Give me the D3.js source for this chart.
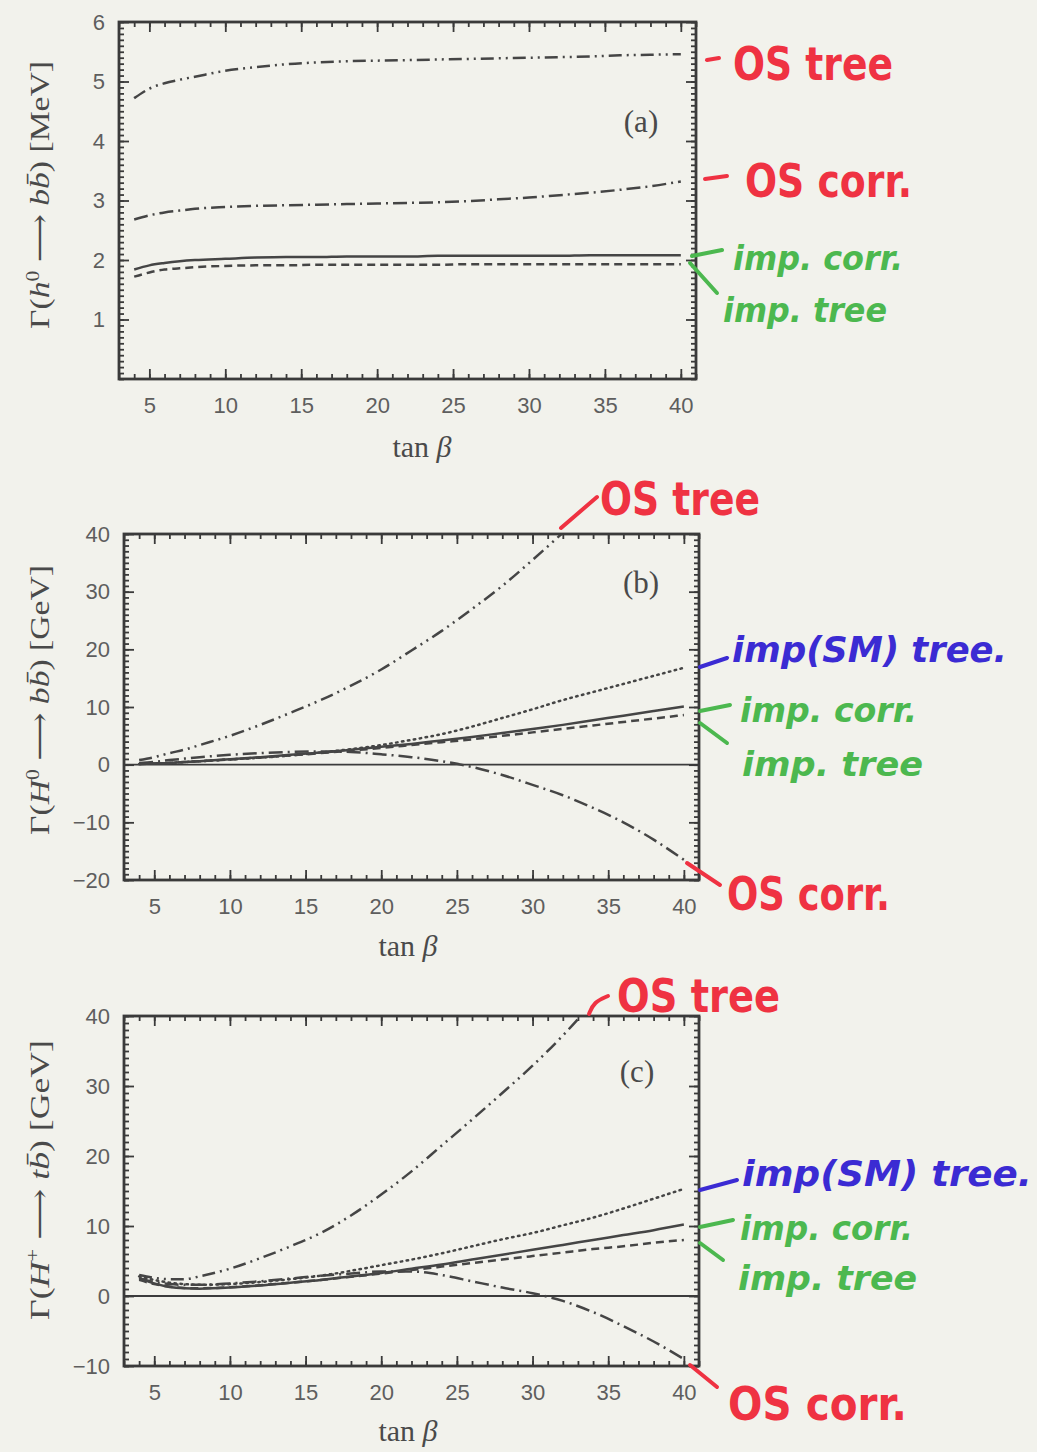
<!DOCTYPE html>
<html>
<head>
<meta charset="utf-8">
<script src="https://cdn.jsdelivr.net/npm/d3@7"></script>
<style>
  body { margin: 0; background: #f2f2ec; }
  svg { display: block; }
  .tick text { font-family: "Liberation Sans", Arial, sans-serif; font-size: 22px; fill: #5e5e5e; }
  .tick line { stroke: #3a3a3a; stroke-width: 1.8; }
  .serif { font-family: "Liberation Serif", "DejaVu Serif", serif; fill: #4a4a4a; }
  .note { font-family: "DejaVu Sans", sans-serif; font-weight: bold; }
</style>
</head>
<body>
<svg id="svg"></svg>
<script>
// tan(beta) grid the curves were read on
const tanB = [4, 5, 6, 7, 8, 10, 12, 14, 16, 18, 20, 22, 24, 26, 28, 30, 32, 34, 36, 38, 40];

// panel (a): Gamma(h0 -> b bbar) [MeV]
const osTreeA  = [4.72, 4.88, 4.97, 5.03, 5.08, 5.18, 5.24, 5.29, 5.32, 5.34, 5.35, 5.36, 5.37, 5.38, 5.39, 5.40, 5.41, 5.42, 5.44, 5.45, 5.46];
const osCorrA  = [2.68, 2.75, 2.80, 2.83, 2.86, 2.89, 2.91, 2.92, 2.93, 2.94, 2.95, 2.96, 2.97, 2.99, 3.02, 3.05, 3.09, 3.13, 3.18, 3.24, 3.32];
const impCorrA = [1.84, 1.91, 1.95, 1.98, 2.00, 2.02, 2.04, 2.05, 2.05, 2.06, 2.06, 2.06, 2.07, 2.07, 2.07, 2.07, 2.07, 2.08, 2.08, 2.08, 2.08];
const impTreeA = [1.72, 1.79, 1.84, 1.86, 1.88, 1.90, 1.91, 1.91, 1.92, 1.92, 1.92, 1.92, 1.92, 1.93, 1.93, 1.93, 1.93, 1.93, 1.93, 1.93, 1.93];

// panel (b): Gamma(H0 -> b bbar) [GeV]
const osTreeB  = [0.8, 1.3, 2.0, 2.6, 3.4, 5.0, 6.9, 9.0, 11.2, 13.7, 16.5, 19.8, 23.2, 27.0, 31.0, 35.5, 40.2, null, null, null, null];
const smTreeB  = [0.1, 0.2, 0.3, 0.45, 0.6, 0.9, 1.2, 1.6, 2.1, 2.7, 3.4, 4.3, 5.3, 6.6, 8.1, 9.6, 11.2, 12.6, 14.0, 15.4, 16.8];
const impCorrB = [0.1, 0.2, 0.3, 0.45, 0.6, 0.95, 1.3, 1.7, 2.1, 2.6, 3.1, 3.6, 4.2, 4.8, 5.5, 6.2, 6.9, 7.7, 8.5, 9.3, 10.1];
const impTreeB = [0.1, 0.2, 0.3, 0.45, 0.6, 0.9, 1.25, 1.6, 2.0, 2.45, 2.9, 3.4, 3.9, 4.4, 5.0, 5.6, 6.2, 6.8, 7.4, 8.0, 8.6];
const osCorrB  = [0.3, 0.5, 0.8, 1.05, 1.3, 1.7, 2.0, 2.2, 2.3, 2.2, 1.8, 1.3, 0.6, -0.4, -1.8, -3.5, -5.3, -7.5, -10.0, -13.0, -16.5];

// panel (c): Gamma(H+ -> t bbar) [GeV]
const osTreeC  = [3.0, 2.6, 2.4, 2.4, 2.8, 3.9, 5.4, 7.1, 9.0, 11.5, 14.5, 17.8, 21.5, 25.2, 29.0, 32.9, 37.2, 42.0, null, null, null];
const smTreeC  = [2.8, 2.3, 1.9, 1.7, 1.6, 1.7, 2.0, 2.4, 2.9, 3.6, 4.4, 5.2, 6.1, 7.1, 8.1, 9.0, 10.1, 11.2, 12.5, 13.9, 15.3];
const impCorrC = [2.6, 1.8, 1.3, 1.1, 1.05, 1.2, 1.5, 1.9, 2.3, 2.8, 3.3, 3.9, 4.5, 5.2, 5.9, 6.6, 7.3, 8.0, 8.7, 9.4, 10.2];
const impTreeC = [2.3, 1.7, 1.35, 1.15, 1.1, 1.25, 1.55, 1.9, 2.3, 2.75, 3.2, 3.7, 4.2, 4.7, 5.2, 5.7, 6.2, 6.7, 7.1, 7.6, 8.0];
const osCorrC  = [2.5, 2.0, 1.7, 1.6, 1.6, 1.8, 2.1, 2.5, 2.9, 3.2, 3.5, 3.5, 3.0, 2.1, 1.2, 0.4, -0.7, -2.3, -4.3, -6.5, -9.0];

// tick labels
const xTicks = [5, 10, 15, 20, 25, 30, 35, 40];
const yTicksA = [1, 2, 3, 4, 5, 6];
const yTicksB = [-20, -10, 0, 10, 20, 30, 40];
const yTicksC = [-10, 0, 10, 20, 30, 40];

const width = 1037;
const height = 1452;
const xDomain = [3, 41];

// line styles of the curves
const dashes = {
    osTree: "13,5,2,5,2,5",
    osCorr: "14,5,2,5",
    smTree: "1.5,4.5",
    impCorr: null,
    impTree: "8,5"
};

const red = "#ef3242";
const green = "#4cb84f";
const blue = "#3b2bd3";

const panels = [
    {
        name: "a", left: 119, right: 696, top: 22, bottom: 379,
        yDomain: [0, 6], yTicks: yTicksA, yMinor: d3.range(0, 61).map(i => i / 10),
        zero: false,
        series: [
            { v: osTreeA, dash: dashes.osTree },
            { v: osCorrA, dash: dashes.osCorr },
            { v: impTreeA, dash: dashes.impTree },
            { v: impCorrA, dash: dashes.impCorr }
        ],
        tag: [641, 132], xTitle: [422, 457], yTitleY: 195, yTitleLen: 268,
        yTitle: [["Γ("], ["h", "i"], ["0", "sup"], [" ⟶ "], ["b", "i"], ["b\u0304", "i"], [") [MeV]"]],
        notes: [
            { t: "OS tree", c: red, x: 733, y: 80, w: 160, s: 46, lead: [[707, 60], [719, 58]] },
            { t: "OS corr.", c: red, x: 745, y: 197, w: 167, s: 46, lead: [[705, 179], [727, 176]] },
            { t: "imp. corr.", c: green, x: 733, y: 270, w: 170, s: 34, lead: [[692, 256], [722, 250]] },
            { t: "imp. tree", c: green, x: 723, y: 322, w: 164, s: 34, lead: [[690, 263], [717, 293]] }
        ]
    },
    {
        name: "b", left: 124, right: 699, top: 534, bottom: 880,
        yDomain: [-20, 40], yTicks: yTicksB, yMinor: d3.range(-20, 41),
        zero: true,
        series: [
            { v: osTreeB, dash: dashes.osTree },
            { v: smTreeB, dash: dashes.smTree },
            { v: osCorrB, dash: dashes.osCorr },
            { v: impTreeB, dash: dashes.impTree },
            { v: impCorrB, dash: dashes.impCorr }
        ],
        tag: [641, 593], xTitle: [408, 956], yTitleY: 700, yTitleLen: 270,
        yTitle: [["Γ("], ["H", "i"], ["0", "sup"], [" ⟶ "], ["b", "i"], ["b\u0304", "i"], [") [GeV]"]],
        notes: [
            { t: "OS tree", c: red, x: 600, y: 515, w: 160, s: 46, lead: [[561, 528], [597, 497]] },
            { t: "imp(SM) tree.", c: blue, x: 732, y: 662, w: 275, s: 36, lead: [[700, 667], [727, 658]] },
            { t: "imp. corr.", c: green, x: 740, y: 722, w: 177, s: 34, lead: [[700, 711], [730, 705]] },
            { t: "imp. tree", c: green, x: 742, y: 776, w: 181, s: 34, lead: [[700, 723], [727, 743]] },
            { t: "OS corr.", c: red, x: 727, y: 910, w: 163, s: 46, lead: [[687, 863], [720, 885]] }
        ]
    },
    {
        name: "c", left: 124, right: 699, top: 1016, bottom: 1366,
        yDomain: [-10, 40], yTicks: yTicksC, yMinor: d3.range(-10, 41),
        zero: true,
        series: [
            { v: osTreeC, dash: dashes.osTree },
            { v: smTreeC, dash: dashes.smTree },
            { v: osCorrC, dash: dashes.osCorr },
            { v: impTreeC, dash: dashes.impTree },
            { v: impCorrC, dash: dashes.impCorr }
        ],
        tag: [637, 1082], xTitle: [408, 1441], yTitleY: 1180, yTitleLen: 280,
        yTitle: [["Γ("], ["H", "i"], ["+", "sup"], [" ⟶ "], ["t", "i"], ["b\u0304", "i"], [") [GeV]"]],
        notes: [
            { t: "OS tree", c: red, x: 617, y: 1012, w: 163, s: 46, lead: [[589, 1014], [594, 1002], [608, 996]] },
            { t: "imp(SM) tree.", c: blue, x: 742, y: 1186, w: 290, s: 36, lead: [[700, 1190], [737, 1180]] },
            { t: "imp. corr.", c: green, x: 740, y: 1240, w: 173, s: 34, lead: [[700, 1227], [733, 1220]] },
            { t: "imp. tree", c: green, x: 738, y: 1290, w: 179, s: 34, lead: [[700, 1243], [723, 1260]] },
            { t: "OS corr.", c: red, x: 728, y: 1420, w: 179, s: 46, lead: [[690, 1365], [717, 1387]] }
        ]
    }
];

let svg = d3.select("#svg")
    .attr("width", width)
    .attr("height", height);

svg.append("rect")
    .attr("width", width)
    .attr("height", height)
    .attr("fill", "#f2f2ec");

function drawPanel(p) {
    const xScale = d3.scaleLinear().domain(xDomain).range([p.left, p.right]);
    const yScale = d3.scaleLinear().domain(p.yDomain).range([p.bottom, p.top]);
    const g = svg.append("g").attr("class", "panel-" + p.name);

    g.append("clipPath")
        .attr("id", "clip-" + p.name)
        .append("rect")
        .attr("x", p.left)
        .attr("y", p.top)
        .attr("width", p.right - p.left)
        .attr("height", p.bottom - p.top);

    if (p.zero) {
        g.append("line")
            .attr("x1", p.left).attr("x2", p.right)
            .attr("y1", yScale(0)).attr("y2", yScale(0))
            .attr("stroke", "#3c3c3c")
            .attr("stroke-width", 1.8);
    }

    const line = d3.line()
        .defined(d => d[1] !== null)
        .x(d => xScale(d[0]))
        .y(d => yScale(d[1]))
        .curve(d3.curveMonotoneX);

    const curves = g.append("g").attr("clip-path", "url(#clip-" + p.name + ")");
    for (const s of p.series) {
        curves.append("path")
            .datum(tanB.map((t, i) => [t, s.v[i]]))
            .attr("d", line)
            .attr("fill", "none")
            .attr("stroke", "#454545")
            .attr("stroke-width", 2.5)
            .attr("stroke-linecap", s.dash === dashes.smTree ? "round" : "butt")
            .attr("stroke-dasharray", s.dash);
    }

    // ticks on all four sides, pointing inward
    const xMinor = d3.range(3, 42);
    g.append("g").attr("transform", `translate(0,${p.bottom})`)
        .call(d3.axisBottom(xScale).tickValues(xMinor).tickSize(-5).tickFormat(""));
    g.append("g").attr("transform", `translate(0,${p.bottom})`)
        .call(d3.axisBottom(xScale).tickValues(xTicks).tickSize(-10).tickPadding(18).tickFormat(d3.format("d")));
    g.append("g").attr("transform", `translate(0,${p.top})`)
        .call(d3.axisTop(xScale).tickValues(xMinor).tickSize(-5).tickFormat(""));
    g.append("g").attr("transform", `translate(0,${p.top})`)
        .call(d3.axisTop(xScale).tickValues(xTicks).tickSize(-10).tickFormat(""));

    g.append("g").attr("transform", `translate(${p.left},0)`)
        .call(d3.axisLeft(yScale).tickValues(p.yMinor).tickSize(-5).tickFormat(""));
    g.append("g").attr("transform", `translate(${p.left},0)`)
        .call(d3.axisLeft(yScale).tickValues(p.yTicks).tickSize(-10).tickPadding(14).tickFormat(d3.format("d")));
    g.append("g").attr("transform", `translate(${p.right},0)`)
        .call(d3.axisRight(yScale).tickValues(p.yMinor).tickSize(-5).tickFormat(""));
    g.append("g").attr("transform", `translate(${p.right},0)`)
        .call(d3.axisRight(yScale).tickValues(p.yTicks).tickSize(-10).tickFormat(""));

    g.selectAll(".domain").remove();
    g.selectAll(".tick text").attr("font-family", null).attr("font-size", null);

    g.append("rect")
        .attr("x", p.left).attr("y", p.top)
        .attr("width", p.right - p.left)
        .attr("height", p.bottom - p.top)
        .attr("fill", "none")
        .attr("stroke", "#3a3a3a")
        .attr("stroke-width", 2.8);

    // panel tag, x title, y title
    g.append("text")
        .attr("class", "serif")
        .attr("x", p.tag[0]).attr("y", p.tag[1])
        .attr("text-anchor", "middle")
        .style("font-size", "31px")
        .text("(" + p.name + ")");

    const xt = g.append("text")
        .attr("class", "serif")
        .attr("x", p.xTitle[0]).attr("y", p.xTitle[1])
        .attr("text-anchor", "middle")
        .style("font-size", "30px");
    xt.append("tspan").text("tan ");
    xt.append("tspan").style("font-style", "italic").text("β");

    const yt = g.append("text")
        .attr("class", "serif")
        .attr("transform", `translate(49,${p.yTitleY}) rotate(-90)`)
        .attr("text-anchor", "middle")
        .attr("textLength", p.yTitleLen)
        .attr("lengthAdjust", "spacingAndGlyphs")
        .style("font-size", "28px");
    for (const part of p.yTitle) {
        const ts = yt.append("tspan").text(part[0]);
        if (part[1] === "i") ts.style("font-style", "italic");
        if (part[1] === "sup") ts.style("font-size", "18px").attr("baseline-shift", "super");
    }

    // handwritten annotations (red ones upright, green/blue slanted)
    for (const n of p.notes) {
        g.append("path")
            .attr("d", d3.line().curve(d3.curveBasis)(n.lead))
            .attr("fill", "none")
            .attr("stroke", n.c)
            .attr("stroke-width", 4)
            .attr("stroke-linecap", "round");
        g.append("text")
            .attr("class", "note")
            .attr("x", n.x).attr("y", n.y)
            .attr("fill", n.c)
            .attr("textLength", n.w)
            .attr("lengthAdjust", "spacingAndGlyphs")
            .style("font-style", n.c === red ? "normal" : "italic")
            .style("font-size", n.s + "px")
            .text(n.t);
    }
}

panels.forEach(drawPanel);
</script>
</body>
</html>
